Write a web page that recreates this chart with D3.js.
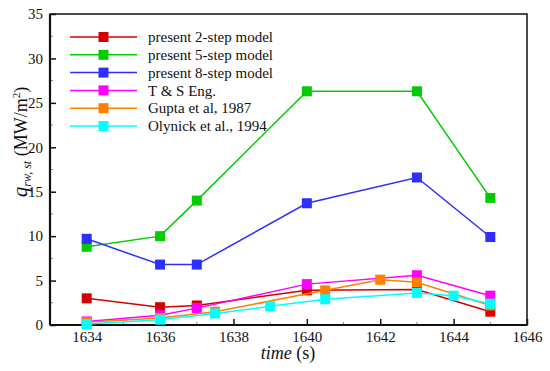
<!DOCTYPE html>
<html>
<head>
<meta charset="utf-8">
<script src="https://cdn.jsdelivr.net/npm/d3@7"></script>
<style>
  body { margin: 0; background: #fff; }
  svg text { font-family: "Liberation Serif", Tinos, "Times New Roman", "DejaVu Serif", serif; }
</style>
</head>
<body>
<div id="chart"></div>
<script>
// data
var seriesNames = ["present 2-step model", "present 5-step model", "present 8-step model",
                   "T & S Eng.", "Gupta et al, 1987", "Olynick et al., 1994"];
var seriesColors = ["#d40000", "#00cc00", "#2e2eff", "#ff00ff", "#ff8000", "#00ffff"];

var presentTimes = [1634, 1636, 1637, 1640, 1643, 1645];
var twoStep   = [3.0, 2.0, 2.2, 3.9, 4.0, 1.5];
var fiveStep  = [8.8, 10.0, 14.0, 26.3, 26.3, 14.3];
var eightStep = [9.7, 6.8, 6.8, 13.7, 16.6, 9.9];
var tsEng     = [0.4, 1.1, 1.9, 4.6, 5.6, 3.3];

var guptaTimes = [1634, 1636, 1637.5, 1640.5, 1642, 1643, 1645];
var gupta      = [0.3, 0.8, 1.5, 3.9, 5.1, 4.8, 2.2];

var olynickTimes = [1634, 1636, 1637.5, 1639, 1640.5, 1643, 1644, 1645];
var olynick      = [0.1, 0.6, 1.3, 2.1, 2.9, 3.6, 3.3, 2.4];

var xTicks = [1634, 1636, 1638, 1640, 1642, 1644, 1646];
var yTicks = [0, 5, 10, 15, 20, 25, 30, 35];

var series = [
  { name: seriesNames[0], t: presentTimes, v: twoStep },
  { name: seriesNames[1], t: presentTimes, v: fiveStep },
  { name: seriesNames[2], t: presentTimes, v: eightStep },
  { name: seriesNames[3], t: presentTimes, v: tsEng },
  { name: seriesNames[4], t: guptaTimes, v: gupta },
  { name: seriesNames[5], t: olynickTimes, v: olynick }
];

var serif = "'Liberation Serif', Tinos, 'Times New Roman', 'DejaVu Serif', serif";

var width = 550, height = 371;
var margin = { top: 14, right: 23, bottom: 46, left: 50 };
var w = width - margin.left - margin.right;
var h = height - margin.top - margin.bottom;

var svg = d3.select("#chart").append("svg")
    .attr("width", width)
    .attr("height", height)
    .attr("font-family", serif);

var g = svg.append("g")
    .attr("transform", "translate(" + margin.left + "," + margin.top + ")");

var x = d3.scaleLinear().domain([1633, 1646]).range([0, w]);
var y = d3.scaleLinear().domain([0, 35]).range([h, 0]);

var color = d3.scaleOrdinal().domain(seriesNames).range(seriesColors);

// minor ticks (inward)
var xMinor = d3.range(1633, 1647, 1).filter(d => xTicks.indexOf(d) < 0);
var yMinor = d3.range(2.5, 35, 5);

g.selectAll(".xminor").data(xMinor).enter().append("line")
    .attr("x1", d => x(d)).attr("x2", d => x(d))
    .attr("y1", h).attr("y2", h - 3)
    .attr("stroke", "#888").attr("stroke-width", 1);
g.selectAll(".yminor").data(yMinor).enter().append("line")
    .attr("y1", d => y(d)).attr("y2", d => y(d))
    .attr("x1", 0).attr("x2", 3)
    .attr("stroke", "#888").attr("stroke-width", 1);

// axes, ticks pointing inside
var xAxis = d3.axisBottom(x).tickValues(xTicks).tickSize(-6).tickPadding(6).tickFormat(d3.format("d"));
var yAxis = d3.axisLeft(y).tickValues(yTicks).tickSize(-6).tickPadding(7);

g.append("g")
    .attr("class", "x axis")
    .attr("transform", "translate(0," + h + ")")
    .call(xAxis)
    .call(a => a.select(".domain").remove());

g.append("g")
    .attr("class", "y axis")
    .call(yAxis)
    .call(a => a.select(".domain").remove());

g.selectAll(".axis").attr("font-family", serif).attr("font-size", 15);
g.selectAll(".axis text").attr("fill", "#111");
g.selectAll(".axis line").attr("stroke", "#111").attr("stroke-width", 1.5);

// frame
g.append("rect")
    .attr("width", w).attr("height", h)
    .attr("fill", "none").attr("stroke", "#111").attr("stroke-width", 1.5);
g.append("line").attr("x1", 0).attr("x2", w).attr("y1", h).attr("y2", h)
    .attr("stroke", "#111").attr("stroke-width", 2.2);
g.append("line").attr("x1", 0).attr("x2", 0).attr("y1", 0).attr("y2", h)
    .attr("stroke", "#111").attr("stroke-width", 2.2);

// lines and markers
var line = d3.line().x(d => x(d.t)).y(d => y(d.v));
var ms = 10;

series.forEach(function (s) {
  var pts = s.t.map((t, i) => ({ t: t, v: s.v[i] }));
  g.append("path")
      .datum(pts)
      .attr("fill", "none")
      .attr("stroke", color(s.name))
      .attr("stroke-width", 1.5)
      .attr("d", line);
  g.selectAll(null).data(pts).enter().append("rect")
      .attr("x", d => x(d.t) - ms / 2)
      .attr("y", d => y(d.v) - ms / 2)
      .attr("width", ms).attr("height", ms)
      .attr("fill", color(s.name));
});

// legend
var legend = g.selectAll(".legend")
    .data(seriesNames)
    .enter().append("g")
    .attr("class", "legend")
    .attr("transform", (d, i) => "translate(20," + (23 + i * 17.8) + ")");

legend.append("line")
    .attr("x1", 0).attr("x2", 67)
    .attr("stroke", d => color(d)).attr("stroke-width", 1.5);
legend.append("rect")
    .attr("x", 33.5 - ms / 2).attr("y", -ms / 2)
    .attr("width", ms).attr("height", ms)
    .attr("fill", d => color(d));
legend.append("text")
    .attr("x", 78).attr("dy", ".35em")
    .attr("font-size", 15)
    .attr("fill", "#111")
    .text(d => d);

// axis titles
var xt = svg.append("text")
    .attr("x", 288)
    .attr("y", 359)
    .attr("text-anchor", "middle")
    .attr("font-size", 18)
    .attr("fill", "#111");
xt.append("tspan").attr("font-style", "italic").text("time");
xt.append("tspan").text(" (s)");

var yt = svg.append("text")
    .attr("transform", "translate(27,142) rotate(-90)")
    .attr("text-anchor", "middle")
    .attr("font-size", 18)
    .attr("fill", "#111");
yt.append("tspan").attr("font-style", "italic").attr("font-size", 21).text("q");
yt.append("tspan").attr("font-style", "italic").attr("font-size", 12).attr("dy", 4).text("rw, st");
yt.append("tspan").attr("dy", -4).text(" (MW/m");
yt.append("tspan").attr("font-size", 11).attr("dy", -7).text("2");
yt.append("tspan").attr("dy", 7).text(")");
</script>
</body>
</html>
